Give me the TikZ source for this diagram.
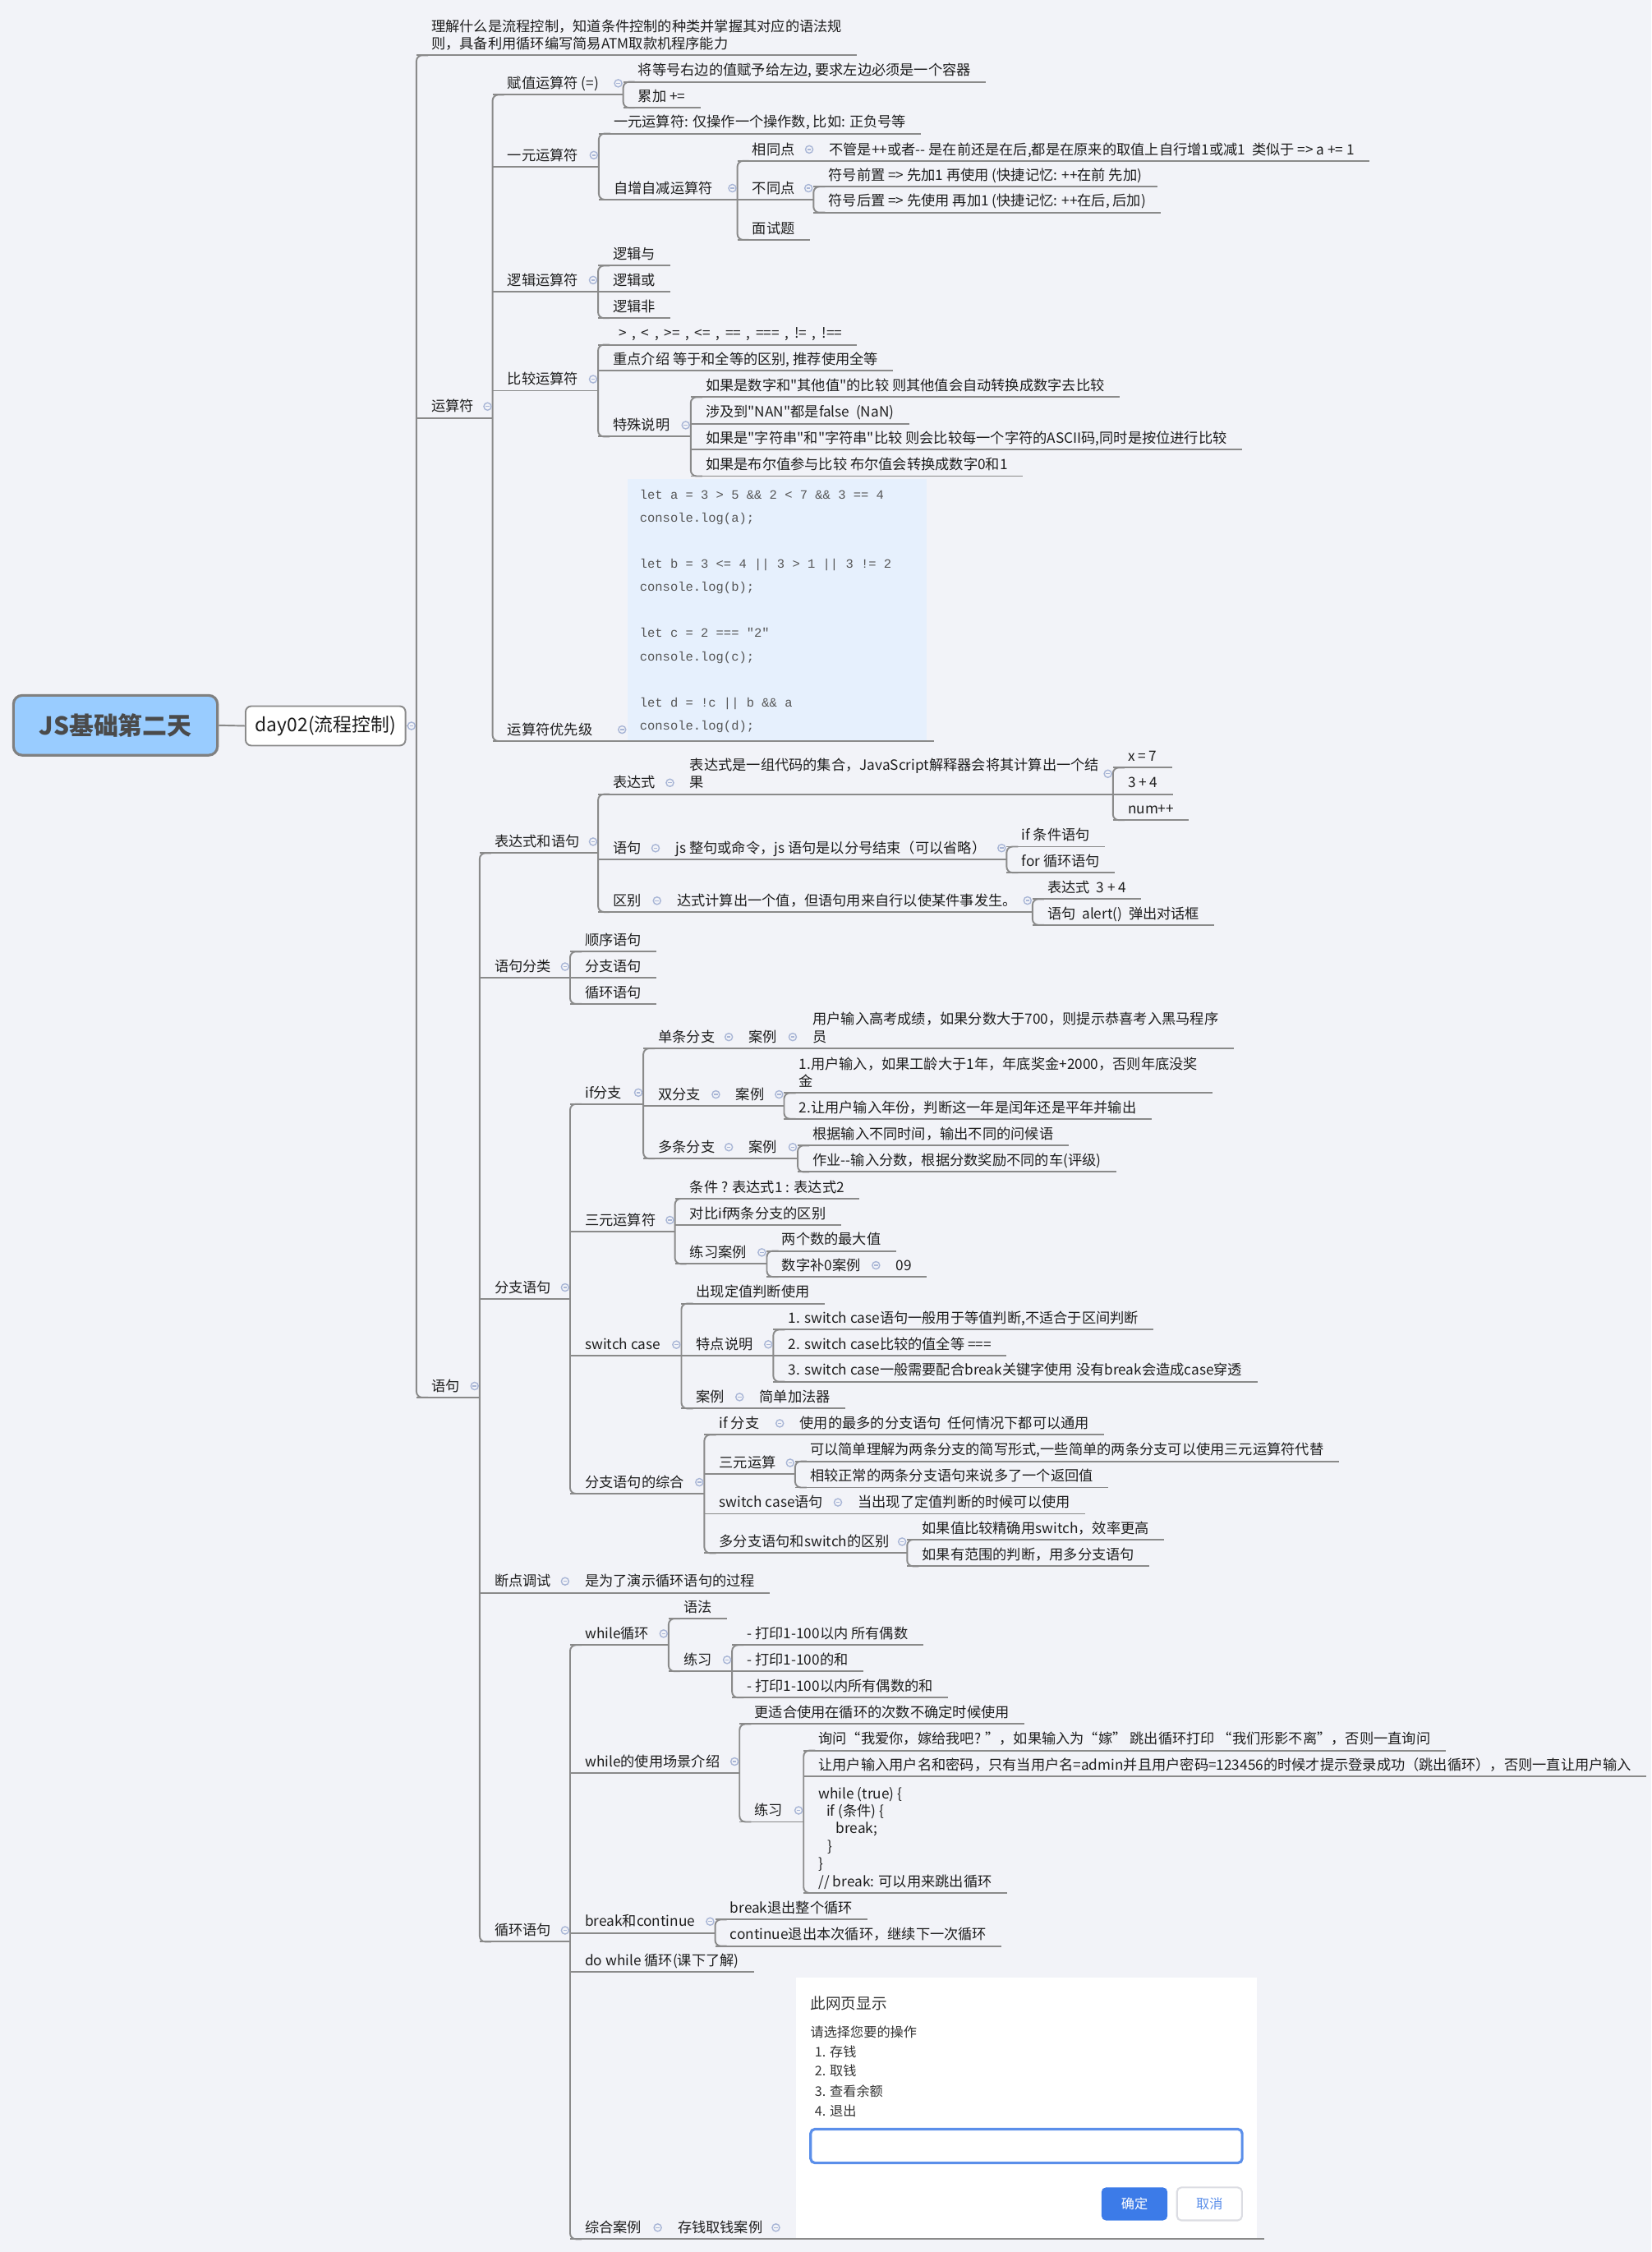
\documentclass[tikz,border=0pt]{standalone}
\usepackage{fontspec}
\newfontfamily\mapcjk{Noto Sans CJK SC}
\newfontfamily\codefont{Liberation Mono}
\usetikzlibrary{calc}
\definecolor{mapbg}{HTML}{F2F3F8}
\definecolor{mapline}{HTML}{8A8A8A}
\definecolor{maptext}{HTML}{1E1E1E}
\definecolor{rootblue}{HTML}{99CCFF}
\definecolor{rootborder}{HTML}{808080}
\definecolor{roottext}{HTML}{4A4A4A}
\definecolor{foldblue}{HTML}{A9B6D6}
\definecolor{codebg}{HTML}{E6F0FD}
\definecolor{codetext}{HTML}{555555}
\definecolor{okblue}{HTML}{3C7BE8}
\definecolor{inputblue}{HTML}{5B8FEA}
\definecolor{cancelgray}{HTML}{DCDDE3}
\newcommand{\mapfont}{\mapcjk\fontsize{4.9}{6.1}\selectfont}
\newcommand{\mlines}[1]{\begin{tabular}[b]{@{}l@{}}#1\end{tabular}}
\tikzset{
  branch/.style={draw=mapline,line width=0.55pt},
  topic/.style={anchor=south west,inner xsep=5pt,inner ysep=1.4pt,text depth=0.6pt,font=\mapfont,text=maptext,
    append after command={(\tikzlastnode.south west) edge[branch] (\tikzlastnode.south east)}},
  rootbox/.style={draw=rootborder,line width=0.9pt,fill=rootblue,rounded corners=3pt,minimum width=70.6pt,minimum height=20.7pt,
    font=\mapcjk\fontsize{8.5}{10}\selectfont\bfseries,text=roottext},
  daybox/.style={draw=mapline,line width=0.55pt,fill=white,rounded corners=2pt,minimum width=54.8pt,minimum height=12.3pt,
    font=\mapcjk\fontsize{6.5}{8}\selectfont,text=maptext},
  codebox/.style={anchor=south west,fill=codebg,inner xsep=4.2pt,inner ysep=0pt,minimum height=90.5pt,
    font=\codefont\fontsize{4.4}{8}\selectfont,text=codetext},
  dlgbox/.style={anchor=south west,fill=white,inner sep=0pt,minimum width=159.5pt,minimum height=90.2pt},
  dlgtext/.style={anchor=west,inner sep=0pt,font=\mapcjk\fontsize{4.6}{5.5}\selectfont,text=black!80},
  inputbox/.style={draw=inputblue,line width=0.9pt,fill=white,rounded corners=1.5pt,minimum width=149.4pt,minimum height=11.7pt},
  okbtn/.style={fill=okblue,rounded corners=1.5pt,minimum width=22.8pt,minimum height=11.4pt,font=\mapcjk\fontsize{4.6}{5.5}\selectfont,text=white},
  cancelbtn/.style={draw=cancelgray,line width=0.6pt,fill=white,rounded corners=1.5pt,minimum width=22.5pt,minimum height=11.4pt,
    font=\mapcjk\fontsize{4.6}{5.5}\selectfont,text=inputblue},
  fold/.pic={\draw[foldblue,line width=0.4pt,fill=mapbg] (0,0) circle (2.6); \draw[foldblue,line width=0.4pt] (-1.3,0) -- (1.3,0);}
}
% parent -> first..last child bracket
\newcommand{\mmfork}[3]{%
  \draw[branch] (#1.south east) -- (#1.south -| #2.south west);
  \draw[branch,rounded corners=2pt] ([xshift=4pt]#2.south west) -- (#2.south west) -- (#3.south west) -- ([xshift=4pt]#3.south west);
  \pic at ($(#1.center -| #2.south west)+(-3.5,0)$) {fold};}
% parent -> single child on the same line
\newcommand{\mmchain}[2]{%
  \draw[branch] (#1.south east) -- (#2.south west);
  \pic at ($(#1.center -| #2.south west)+(-3.5,0)$) {fold};}

\begin{document}
\begin{tikzpicture}[x=0.017478cm,y=-0.017478cm]
  \fill[mapbg] (0,0) rectangle (1150,1568);
  \useasboundingbox (0,0) rectangle (1150,1568);

  % root
  \node[rootbox] (root) at (80.4,505) {JS基础第二天};
  \node[daybox] (day) at (226.7,505.4) {day02(流程控制)};
  \draw[branch] (root.east) -- (day.west);

  \node[topic] (goal) at (290,38.5) {\mlines{理解什么是流程控制，知道条件控制的种类并掌握其对应的语法规\\则，具备利用循环编写简易ATM取款机程序能力}};
  \node[topic] (ops) at (290,291) {运算符};
  \node[topic] (stm) at (290,973) {语句};
  \draw[branch] (day.east) -- (day.east -| goal.south west);
  \draw[branch,rounded corners=2pt] ([xshift=4pt]goal.south west) -- (goal.south west) -- (stm.south west) -- ([xshift=4pt]stm.south west);
  \pic at ($(day.east -| goal.south west)+(-3.5,0)$) {fold};

  % operators
  \node[topic] (asg) at (343,66) {赋值运算符 (=)};
  \node[topic] (una) at (343,116) {一元运算符};
  \node[topic] (lgc) at (343,203) {逻辑运算符};
  \node[topic] (cmp) at (343,272) {比较运算符};
  \node[topic] (pri) at (343,516) {运算符优先级};
  \mmfork{ops}{asg}{pri}

  \node[topic] (asg1) at (434,57) {将等号右边的值赋予给左边, 要求左边必须是一个容器};
  \node[topic] (asg2) at (434,75) {累加 +=};
  \mmfork{asg}{asg1}{asg2}

  \node[topic] (una1) at (417,93) {一元运算符: 仅操作一个操作数, 比如: 正负号等};
  \node[topic] (inc) at (417,139) {自增自减运算符};
  \mmfork{una}{una1}{inc}
  \node[topic] (same) at (513.5,112) {相同点};
  \node[topic] (diffp) at (513.5,139) {不同点};
  \node[topic] (quiz) at (513.5,167) {面试题};
  \mmfork{inc}{same}{quiz}
  \node[topic] (same1) at (567,112) {不管是++或者-{}- 是在前还是在后,都是在原来的取值上自行增1或减1\ \ 类似于 => a += 1};
  \mmchain{same}{same1}
  \node[topic] (pre) at (566.5,130) {符号前置 => 先加1 再使用 (快捷记忆: ++在前 先加)};
  \node[topic] (post) at (566.5,148) {符号后置 => 先使用 再加1 (快捷记忆: ++在后, 后加)};
  \mmfork{diffp}{pre}{post}

  \node[topic] (lgand) at (416.5,185) {逻辑与};
  \node[topic] (lgor) at (416.5,203) {逻辑或};
  \node[topic] (lgnot) at (416.5,221.5) {逻辑非};
  \mmfork{lgc}{lgand}{lgnot}

  \node[topic,execute at begin node={\spaceskip=1.9pt\relax}] (cmp1) at (416.5,240) {\ > , < , >= , <= , == , === , != , !==};
  \node[topic] (cmp2) at (416.5,258) {重点介绍 等于和全等的区别, 推荐使用全等};
  \node[topic] (spec) at (416.5,304) {特殊说明};
  \mmfork{cmp}{cmp1}{spec}
  \node[topic] (spec1) at (481,276.5) {如果是数字和"其他值"的比较 则其他值会自动转换成数字去比较};
  \node[topic] (spec2) at (481,295) {涉及到"NAN"都是false\ \ (NaN)};
  \node[topic] (spec3) at (481,313) {如果是"字符串"和"字符串"比较 则会比较每一个字符的ASCII码,同时是按位进行比较};
  \node[topic] (spec4) at (481,331.5) {如果是布尔值参与比较 布尔值会转换成数字0和1};
  \mmfork{spec}{spec1}{spec4}

  \node[codebox] (pricode) at (436.7,516) {\makebox[95pt][l]{\begin{tabular}{@{}l@{}}let a = 3 > 5 \&\& 2 < 7 \&\& 3 == 4\\console.log(a);\\ \\let b = 3 <= 4 || 3 > 1 || 3 != 2\\console.log(b);\\ \\let c = 2 === "2"\\console.log(c);\\ \\let d = !c || b \&\& a\\console.log(d);\end{tabular}}};
  \draw[branch] (pricode.south west) -- ([xshift=2.5pt]pricode.south east);
  \mmchain{pri}{pricode}

  % statements
  \node[topic] (exs) at (334,594) {表达式和语句};
  \node[topic] (cls) at (334,681) {语句分类};
  \node[topic] (brs) at (334,904.4) {分支语句};
  \node[topic] (dbg) at (334,1109) {断点调试};
  \node[topic] (lps) at (334,1352) {循环语句};
  \mmfork{stm}{exs}{lps}

  \node[topic] (expr) at (416.5,553) {表达式};
  \node[topic] (sent) at (416.5,598.5) {语句};
  \node[topic] (dist) at (416.5,635) {区别};
  \mmfork{exs}{expr}{dist}
  \node[topic] (expr1) at (470,553) {\mlines{表达式是一组代码的集合，JavaScript解释器会将其计算出一个结\\果}};
  \mmchain{expr}{expr1}
  \node[topic] (ex1) at (775,534.5) {x = 7};
  \node[topic] (ex2) at (775,553) {3 + 4};
  \node[topic] (ex3) at (775,571) {num++};
  \mmfork{expr1}{ex1}{ex3}
  \node[topic] (sent1) at (460,598.5) {js 整句或命令，js 语句是以分号结束（可以省略）};
  \mmchain{sent}{sent1}
  \node[topic] (sent2) at (701,589.5) {if 条件语句};
  \node[topic] (sent3) at (701,607.6) {for 循环语句};
  \mmfork{sent1}{sent2}{sent3}
  \node[topic] (dist1) at (461,635) {达式计算出一个值，但语句用来自行以使某件事发生。};
  \mmchain{dist}{dist1}
  \node[topic] (dist2) at (719,626) {表达式\ \ 3 + 4};
  \node[topic] (dist3) at (719,644) {语句\ \ alert()\ \ 弹出对话框};
  \mmfork{dist1}{dist2}{dist3}

  \node[topic] (cls1) at (397,662.6) {顺序语句};
  \node[topic] (cls2) at (397,681) {分支语句};
  \node[topic] (cls3) at (397,699) {循环语句};
  \mmfork{cls}{cls1}{cls3}

  % branches
  \node[topic] (ifb) at (397,768.7) {if分支};
  \node[topic] (ter) at (397,857.5) {三元运算符};
  \node[topic] (swc) at (397,944) {switch case};
  \node[topic] (cmb) at (397,1040) {分支语句的综合};
  \mmfork{brs}{ifb}{cmb}

  \node[topic] (one) at (448,730) {单条分支};
  \node[topic] (two) at (448,770) {双分支};
  \node[topic] (many) at (448,806.7) {多条分支};
  \mmfork{ifb}{one}{many}
  \node[topic] (onec) at (511,730) {案例};
  \mmchain{one}{onec}
  \node[topic] (onec1) at (555.5,730) {\mlines{用户输入高考成绩，如果分数大于700，则提示恭喜考入黑马程序\\员}};
  \mmchain{onec}{onec1}
  \node[topic] (twoc) at (502,770) {案例};
  \mmchain{two}{twoc}
  \node[topic] (twoc1) at (546,761) {\mlines{1.用户输入，如果工龄大于1年，年底奖金+2000，否则年底没奖\\金}};
  \node[topic] (twoc2) at (546,779) {2.让用户输入年份，判断这一年是闰年还是平年并输出};
  \mmfork{twoc}{twoc1}{twoc2}
  \node[topic] (manyc) at (511,806.7) {案例};
  \mmchain{many}{manyc}
  \node[topic] (manyc1) at (555.5,797.6) {根据输入不同时间，输出不同的问候语};
  \node[topic] (manyc2) at (555.5,816) {作业-{}-输入分数，根据分数奖励不同的车(评级)};
  \mmfork{manyc}{manyc1}{manyc2}

  \node[topic] (ter1) at (470,834.6) {条件 ? 表达式1 : 表达式2};
  \node[topic] (ter2) at (470,853) {对比if两条分支的区别};
  \node[topic] (terp) at (470,880) {练习案例};
  \mmfork{ter}{ter1}{terp}
  \node[topic] (terp1) at (534,871) {两个数的最大值};
  \node[topic] (terp2) at (534,889) {数字补0案例};
  \mmfork{terp}{terp1}{terp2}
  \node[topic] (terp3) at (613.5,889) {09};
  \mmchain{terp2}{terp3}

  \node[topic] (swc1) at (474.5,907.6) {出现定值判断使用};
  \node[topic] (swf) at (474.5,944) {特点说明};
  \node[topic] (swe) at (474.5,980.7) {案例};
  \mmfork{swc}{swc1}{swe}
  \node[topic] (swf1) at (538.5,925.8) {1. switch case语句一般用于等值判断,不适合于区间判断};
  \node[topic] (swf2) at (538.5,944) {2. switch case比较的值全等 ===};
  \node[topic] (swf3) at (538.5,962) {3. switch case一般需要配合break关键字使用 没有break会造成case穿透};
  \mmfork{swf}{swf1}{swf3}
  \node[topic] (swe1) at (518.5,980.7) {简单加法器};
  \mmchain{swe}{swe1}

  \node[topic] (cmb1) at (490.5,999) {if 分支};
  \node[topic] (cmb2) at (490.5,1026.5) {三元运算};
  \node[topic] (cmb3) at (490.5,1054) {switch case语句};
  \node[topic] (cmb4) at (490.5,1081.4) {多分支语句和switch的区别};
  \mmfork{cmb}{cmb1}{cmb4}
  \node[topic] (cmb1a) at (546.5,999) {使用的最多的分支语句\ \ 任何情况下都可以通用};
  \mmchain{cmb1}{cmb1a}
  \node[topic] (cmb2a) at (553.7,1017.5) {可以简单理解为两条分支的简写形式,一些简单的两条分支可以使用三元运算符代替};
  \node[topic] (cmb2b) at (553.7,1035.7) {相较正常的两条分支语句来说多了一个返回值};
  \mmfork{cmb2}{cmb2a}{cmb2b}
  \node[topic] (cmb3a) at (587,1054) {当出现了定值判断的时候可以使用};
  \mmchain{cmb3}{cmb3a}
  \node[topic] (cmb4a) at (631.7,1072) {如果值比较精确用switch，效率更高};
  \node[topic] (cmb4b) at (631.7,1090.5) {如果有范围的判断，用多分支语句};
  \mmfork{cmb4}{cmb4a}{cmb4b}

  \node[topic] (dbg1) at (397,1109) {是为了演示循环语句的过程};
  \mmchain{dbg}{dbg1}

  % loops
  \node[topic] (whl) at (397,1145.4) {while循环};
  \node[topic] (wus) at (397,1234.5) {while的使用场景介绍};
  \node[topic] (bc) at (397,1345.8) {break和continue};
  \node[topic] (dow) at (397,1373) {do while 循环(课下了解)};
  \node[topic] (sum) at (397,1559) {综合案例};
  \mmfork{lps}{whl}{sum}

  \node[topic] (whl1) at (465.6,1127) {语法};
  \node[topic] (whlp) at (465.6,1163.7) {练习};
  \mmfork{whl}{whl1}{whlp}
  \node[topic] (whlp1) at (509.8,1145.4) {- 打印1-100以内 所有偶数};
  \node[topic] (whlp2) at (509.8,1163.7) {- 打印1-100的和};
  \node[topic] (whlp3) at (509.8,1182) {- 打印1-100以内所有偶数的和};
  \mmfork{whlp}{whlp1}{whlp3}

  \node[topic] (wus1) at (515,1200.4) {更适合使用在循环的次数不确定时候使用};
  \node[topic] (wusp) at (515,1268.5) {练习};
  \mmfork{wus}{wus1}{wusp}
  \node[topic] (wusp1) at (559.6,1218.8) {询问“我爱你，嫁给我吧? ”，如果输入为“嫁” 跳出循环打印 “我们形影不离”，否则一直询问};
  \node[topic] (wusp2) at (559.6,1237) {让用户输入用户名和密码，只有当用户名=admin并且用户密码=123456的时候才提示登录成功（跳出循环），否则一直让用户输入};
  \node[topic] (wusp3) at (559.6,1318) {\mlines{while (true) \{\\\hspace*{2.7pt}if (条件) \{\\\hspace*{6pt}break;\\\hspace*{3.2pt}\}\\\}\\// break: 可以用来跳出循环}};
  \mmfork{wusp}{wusp1}{wusp3}

  \node[topic] (bc1) at (498,1336.5) {break退出整个循环};
  \node[topic] (bc2) at (498,1355) {continue退出本次循环，继续下一次循环};
  \mmfork{bc}{bc1}{bc2}

  \node[topic] (sum1) at (461.5,1559) {存钱取钱案例};
  \node[dlgbox] (dlg) at (553.8,1559) {};
  \draw[branch] (sum1.south east) -- (dlg.south west) -- ([xshift=2.5pt]dlg.south east);
  \pic at ($(sum1.center -| dlg.south west)+(-13.5,0)$) {fold};
  \mmchain{sum}{sum1}

  % ATM prompt dialog
  \node[dlgtext,font=\mapcjk\fontsize{5.3}{6.5}\selectfont] (dlgtitle) at (564,1394.7) {此网页显示};
  \node[dlgtext] (dlgask) at (564,1414.7) {请选择您要的操作};
  \node[dlgtext] (dlgopt1) at (567,1428.4) {1. 存钱};
  \node[dlgtext] (dlgopt2) at (567,1442) {2. 取钱};
  \node[dlgtext] (dlgopt3) at (567,1456) {3. 查看余额};
  \node[dlgtext] (dlgopt4) at (567,1469.6) {4. 退出};
  \node[inputbox] (dlginput) at (714.75,1494.2) {};
  \node[okbtn] (dlgok) at (790,1534.5) {确定};
  \node[cancelbtn] (dlgcancel) at (842.25,1534.5) {取消};
\end{tikzpicture}
\end{document}
